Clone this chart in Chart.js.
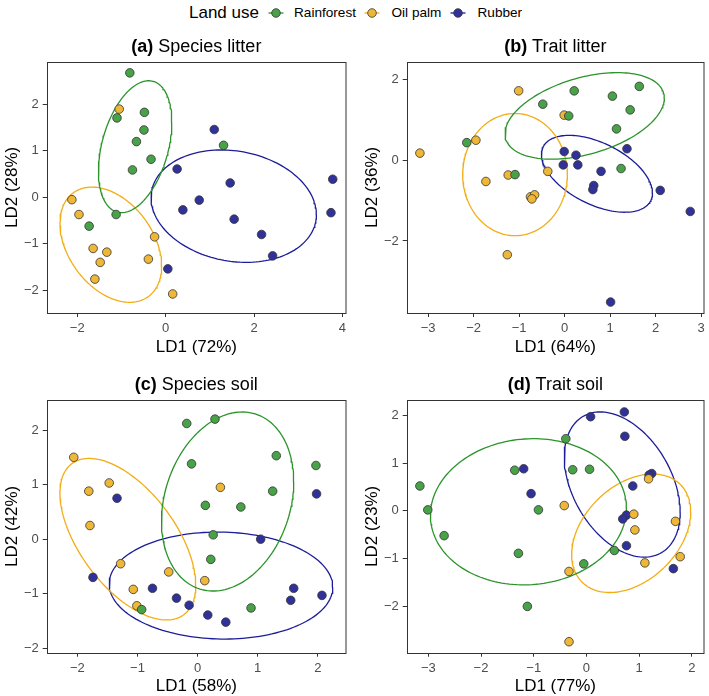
<!DOCTYPE html>
<html><head><meta charset="utf-8">
<script src="https://cdn.jsdelivr.net/npm/chart.js@4/dist/chart.umd.min.js"></script>
<style>
body{margin:0;background:#fff;width:709px;height:696px;position:relative;overflow:hidden;font-family:"Liberation Sans",Arial,sans-serif}
canvas{position:absolute}
.lg{position:absolute;white-space:nowrap;color:#000;line-height:1}
svg{position:absolute}
</style></head><body>
<div class="lg" style="left:189px;top:4px;font-size:17px">Land use</div>
<svg style="left:268px;top:7px" width="16" height="12"><line x1="0.5" y1="6" x2="15.5" y2="6" stroke="#2a942a" stroke-width="1.3"/><circle cx="8" cy="6" r="4.3" fill="#48a248" stroke="#333" stroke-width="0.8"/></svg>
<div class="lg" style="left:294px;top:6px;font-size:13.6px">Rainforest</div>
<svg style="left:364px;top:7px" width="16" height="12"><line x1="0.5" y1="6" x2="15.5" y2="6" stroke="#f2ad14" stroke-width="1.3"/><circle cx="8" cy="6" r="4.3" fill="#efb737" stroke="#333" stroke-width="0.8"/></svg>
<div class="lg" style="left:391.5px;top:6px;font-size:13.6px">Oil palm</div>
<svg style="left:450px;top:7px" width="16" height="12"><line x1="0.5" y1="6" x2="15.5" y2="6" stroke="#1c1c9a" stroke-width="1.3"/><circle cx="8" cy="6" r="4.3" fill="#30329a" stroke="#333" stroke-width="0.8"/></svg>
<div class="lg" style="left:477.5px;top:6px;font-size:13.6px">Rubber</div>
<canvas id="ca" width="354" height="330" style="left:0;top:30px"></canvas>
<canvas id="cb" width="349" height="330" style="left:360px;top:30px"></canvas>
<canvas id="cc" width="354" height="330" style="left:0;top:366px"></canvas>
<canvas id="cd" width="349" height="330" style="left:360px;top:366px"></canvas>
<script>
// ---- Data (LD1, LD2 scores) ----
const groups = ["Rainforest", "Oil palm", "Rubber"];

// (a) Species litter
const aRainX = [-0.81,-0.48,-1.10,-0.49,-0.66,-0.33,-0.75,1.31,-1.12,-1.73];
const aRainY = [2.68,1.83,1.71,1.45,1.20,0.82,0.59,1.12,-0.37,-0.62];
const aOilX  = [-1.05,-2.12,-1.96,-0.25,-1.64,-1.33,-0.39,-1.48,-1.60,0.16];
const aOilY  = [1.90,-0.05,-0.37,-0.85,-1.10,-1.18,-1.33,-1.40,-1.76,-2.08];
const aRubX  = [1.10,0.26,3.78,1.46,0.76,0.39,3.74,1.55,2.17,2.42,0.05];
const aRubY  = [1.46,0.61,0.39,0.31,-0.06,-0.27,-0.33,-0.47,-0.80,-1.26,-1.54];
// ellipse: [centre x, centre y, half-width x, half-height y, tilt r]
const aEllRain = [-0.69,1.09,0.83,1.42,0.37];
const aEllOil  = [-1.24,-1.02,1.15,1.24,-0.37];
const aEllRub  = [1.54,-0.19,1.87,1.21,-0.15];

// (b) Trait litter
const bRainX = [-2.15,-0.48,0.21,1.05,1.64,1.44,0.09,1.14,-1.09,1.24];
const bRainY = [0.43,1.38,1.71,1.58,1.82,1.24,1.09,0.77,-0.36,-0.21];
const bOilX  = [-3.18,-1.01,-1.95,-0.01,-1.73,-1.24,-0.37,-0.75,-0.66,-0.72,-1.26];
const bOilY  = [0.17,1.71,0.49,1.11,-0.53,-0.37,-0.28,-0.91,-0.86,-0.96,-2.34];
const bRubX  = [-0.01,0.25,-0.03,0.29,1.37,0.80,0.64,0.62,2.10,2.76,1.01];
const bRubY  = [0.21,0.12,-0.12,-0.12,0.28,-0.28,-0.63,-0.73,-0.75,-1.27,-3.51];
const bEllRain = [0.44,1.09,1.75,1.07,0.41];
const bEllOil  = [-1.09,-0.36,1.15,1.51,0.0];
const bEllRub  = [0.71,-0.34,1.22,0.95,-0.5];

// (c) Species soil
const cRainX = [-0.18,0.29,-0.10,1.31,1.97,1.25,0.13,0.72,0.26,0.22,0.89,-0.93];
const cRainY = [2.12,2.20,1.38,1.53,1.35,0.88,0.62,0.59,0.08,-0.37,-1.26,-1.29];
const cOilX  = [-2.06,-1.47,-1.81,-1.79,0.38,-1.28,-0.48,0.12,-1.07,-1.01];
const cOilY  = [1.50,1.03,0.88,0.25,0.95,-0.45,-0.60,-0.76,-0.92,-1.22];
const cRubX  = [-1.34,1.98,1.05,-1.74,-0.75,-0.35,-0.14,1.60,1.55,2.07,0.17,0.47];
const cRubY  = [0.75,0.83,0.00,-0.70,-0.90,-1.08,-1.21,-0.90,-1.12,-1.03,-1.39,-1.52];
const cEllRain = [0.50,0.69,1.10,1.64,0.22];
const cEllOil  = [-1.16,0.00,1.13,1.48,-0.57];
const cEllRub  = [0.39,-0.85,1.86,0.98,-0.03];

// (d) Trait soil
const dRainX = [-3.16,-3.01,-2.70,-1.36,-0.26,0.06,-0.39,-0.91,-1.29,-0.05,0.53,-1.12];
const dRainY = [0.52,0.02,-0.52,0.85,0.86,0.87,1.51,0.02,-0.89,-1.11,-0.83,-2.00];
const dOilX  = [-0.42,1.18,0.90,0.92,1.69,1.78,1.11,-0.33,-0.33];
const dOilY  = [0.11,0.67,-0.07,-0.40,-0.22,-0.96,-1.09,-1.27,-2.74];
const dRubX  = [0.08,0.72,0.73,-1.19,-1.05,1.24,1.19,0.88,0.76,0.69,0.76,1.65];
const dRubY  = [1.97,2.07,1.56,0.88,0.36,0.78,0.75,0.52,-0.09,-0.17,-0.73,-1.21];
const dEllRain = [-1.10,-0.02,1.86,1.53,0.05];
const dEllOil  = [0.85,-0.47,1.13,1.24,0.36];
const dEllRub  = [0.68,0.55,1.10,1.52,-0.38];

// Tick labels
const aTicksX = [-2,0,2,4],        aTicksY = [-2,-1,0,1,2];
const bTicksX = [-3,-2,-1,0,1,2,3], bTicksY = [-2,0,2];
const cTicksX = [-2,-1,0,1,2],     cTicksY = [-2,-1,0,1,2];
const dTicksX = [-3,-2,-1,0,1,2],  dTicksY = [-2,-1,0,1,2];

// Titles
const titles = [["(a)"," Species litter"],["(b)"," Trait litter"],["(c)"," Species soil"],["(d)"," Trait soil"]];
const xTitles = ["LD1 (72%)","LD1 (64%)","LD1 (58%)","LD1 (77%)"];
const yTitles = ["LD2 (28%)","LD2 (36%)","LD2 (42%)","LD2 (23%)"];

// ---- Styles ----
const pointFill = ["#48a248","#efb737","#30329a"];
const lineCol   = ["#2a942a","#f2ad14","#1c1c9a"];
const FONT = '"Liberation Sans", Arial, sans-serif';

function pts(xs, ys){ return xs.map((x,i)=>({x:x, y:ys[i]})); }
function ellipse(p){
  const [cx,cy,rx,ry,r] = p, s = Math.sqrt(1-r*r), out=[];
  for(let i=0;i<=160;i++){ const t=i/160*2*Math.PI;
    out.push({x:cx+rx*Math.cos(t), y:cy+ry*(r*Math.cos(t)+s*Math.sin(t))}); }
  return out;
}
const fmt = v => (v<0? "\u2212"+Math.abs(v) : String(v));

const decor = {
  id:'decor',
  afterDraw(chart){
    const o = chart.options.plugins.decor, a = chart.chartArea, ctx = chart.ctx;
    ctx.save();
    ctx.strokeStyle = '#333'; ctx.lineWidth = 1;
    ctx.strokeRect(Math.round(a.left)+0.5, Math.round(a.top)+0.5, Math.round(a.right)-Math.round(a.left)-1+0.5, Math.round(a.bottom)-Math.round(a.top));
    ctx.fillStyle = '#000'; ctx.textBaseline = 'alphabetic';
    const fb = 'bold 18px '+FONT, fn = '18px '+FONT;
    ctx.font = fb; const w1 = ctx.measureText(o.title[0]).width;
    ctx.font = fn; const w2 = ctx.measureText(o.title[1]).width;
    const cx = (a.left+a.right)/2, x0 = cx-(w1+w2)/2, ty = a.top-10;
    ctx.font = fb; ctx.textAlign='left'; ctx.fillText(o.title[0], x0, ty);
    ctx.font = fn; ctx.fillText(o.title[1], x0+w1, ty);
    ctx.font = '17px '+FONT; ctx.textAlign='center';
    ctx.fillText(o.xt, cx, a.bottom+38.5);
    ctx.translate(a.left-29.7, (a.top+a.bottom)/2); ctx.rotate(-Math.PI/2);
    ctx.fillText(o.yt, 0, 0);
    ctx.restore();
  }
};

function axis(min,max,ticks,fit){
  return {
    type:'linear', min:min, max:max,
    afterBuildTicks(s){ s.ticks = ticks.map(v=>({value:v})); },
    afterFit(s){ fit(s); },
    ticks:{ autoSkip:false, maxRotation:0, padding:4, color:'#4d4d4d', font:{family:FONT,size:13}, callback:v=>fmt(v) },
    grid:{ display:true, drawOnChartArea:false, drawTicks:true, tickLength:4, tickColor:'#333', color:'#333' },
    border:{ display:false }
  };
}

function panel(id, idx, series, ells, xr, yr, tx, ty, padTop, padRight, xH){
  const ds = [];
  ells.forEach((e,i)=>ds.push({type:'scatter', data:ellipse(e), showLine:true, pointRadius:0, borderColor:lineCol[i], borderWidth:1.3, fill:false, tension:0, order:1}));
  series.forEach((s,i)=>ds.push({type:'scatter', label:groups[i], data:pts(s[0],s[1]), pointRadius:4.3, pointHoverRadius:4.3, backgroundColor:pointFill[i], borderColor:'#333', borderWidth:0.8, order:0}));
  new Chart(document.getElementById(id), {
    type:'scatter',
    data:{datasets:ds},
    options:{
      responsive:false, animation:false, devicePixelRatio:1,
      layout:{padding:{top:padTop, right:padRight, left:0, bottom:0}},
      plugins:{legend:{display:false}, tooltip:{enabled:false},
        decor:{title:titles[idx], xt:xTitles[idx], yt:yTitles[idx]}},
      scales:{
        x: axis(xr[0],xr[1],tx, s=>{s.height = xH;}),
        y: axis(yr[0],yr[1],ty, s=>{s.width = 46.7;})
      }
    },
    plugins:[decor]
  });
}

panel('ca',0,[[aRainX,aRainY],[aOilX,aOilY],[aRubX,aRubY]],[aEllRain,aEllOil,aEllRub],[-2.69,4.08],[-2.49,2.92],aTicksX,aTicksY,31.7,8,47);
panel('cb',1,[[bRainX,bRainY],[bOilX,bOilY],[bRubX,bRubY]],[bEllRain,bEllOil,bEllRub],[-3.47,3.06],[-3.78,2.43],bTicksX,bTicksY,31.7,2.3,47);
panel('cc',2,[[cRainX,cRainY],[cOilX,cOilY],[cRubX,cRubY]],[cEllRain,cEllOil,cEllRub],[-2.51,2.47],[-2.08,2.55],cTicksX,cTicksY,34,8,43.3);
panel('cd',3,[[dRainX,dRainY],[dOilX,dOilY],[dRubX,dRubY]],[dEllRain,dEllOil,dEllRub],[-3.41,2.23],[-2.97,2.32],dTicksX,dTicksY,34,2.3,43.3);
</script>
</body></html>
